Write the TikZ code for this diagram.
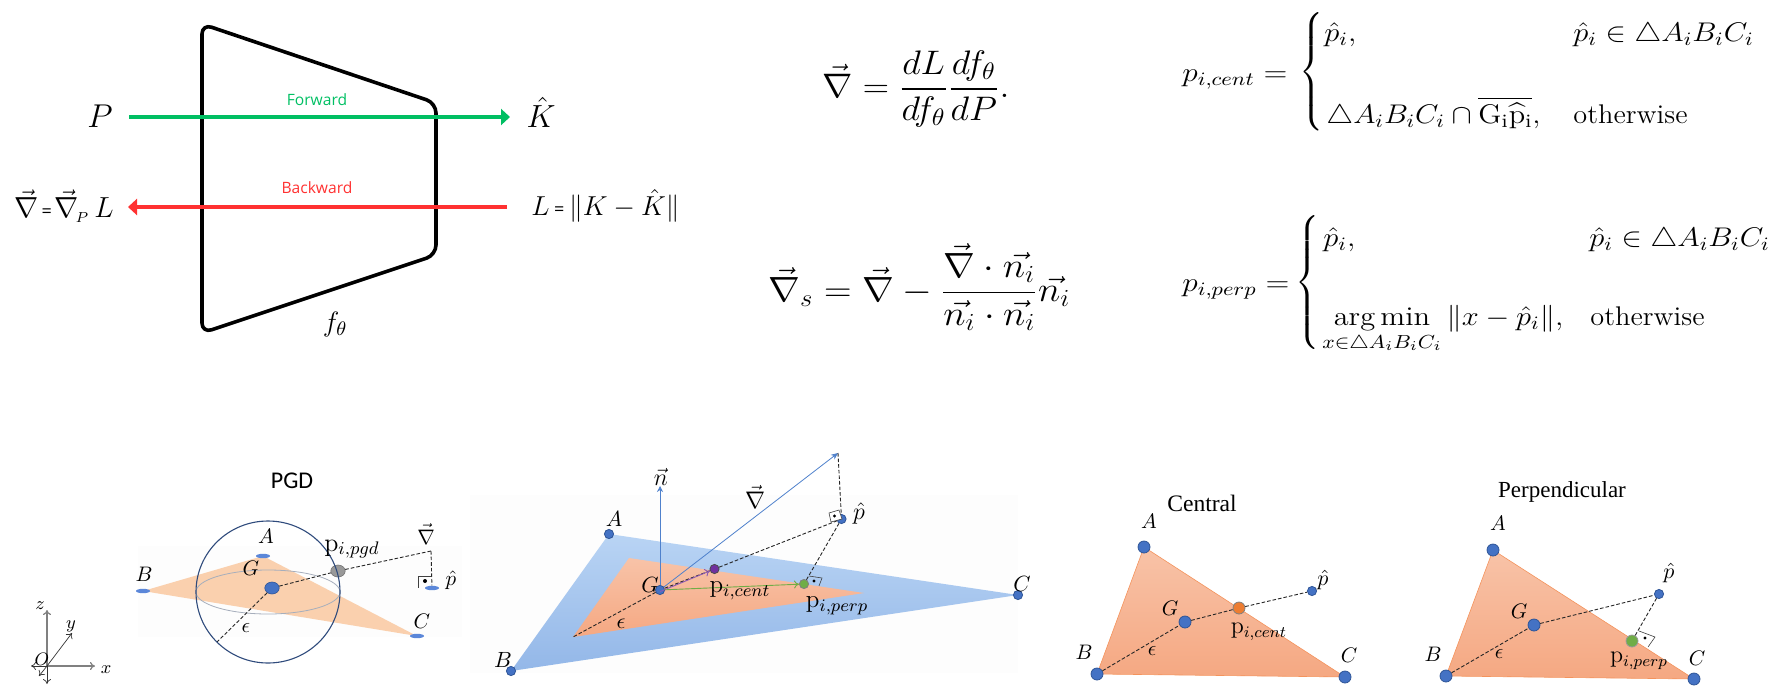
\RequirePackage{fix-cm}
\documentclass[tikz,border=0pt]{standalone}
\usepackage{amsmath,amssymb}
\usepackage{fontspec}
\newfontfamily\canvafont{Open Sans}
\newfontfamily\pgdfont{Carlito}
\newfontfamily\timesfont{Liberation Serif}
\usetikzlibrary{arrows.meta,shapes.geometric}
\definecolor{fwd}{HTML}{00BF63}
\definecolor{bwd}{HTML}{FF3131}
\definecolor{dotblue}{HTML}{4472C4}
\definecolor{dotedge}{HTML}{2F5597}
\definecolor{flatblue}{HTML}{5B87D9}
\definecolor{sphere}{HTML}{2F4B7C}
\definecolor{arrowblue}{HTML}{4F81CC}
\definecolor{pgdtri}{HTML}{FAD0AE}
\definecolor{bluetop}{HTML}{B9D4F4}
\definecolor{bluebot}{HTML}{93B7E8}
\definecolor{ortop}{HTML}{F8C3A8}
\definecolor{orbot}{HTML}{F5A882}
\definecolor{orline}{HTML}{F4935C}
\definecolor{pptgreen}{HTML}{70AD47}
\definecolor{pptpurple}{HTML}{7030A0}
\definecolor{pptorange}{HTML}{ED7D31}
\definecolor{panelbg}{HTML}{FDFDFD}
\newcommand{\sz}[1]{\fontsize{#1}{#1}\selectfont}
\newcommand{\dv}{\vec{\nabla}}
\newcommand{\xs}[2]{\scalebox{#1}[1]{#2}}
\tikzset{
  lab/.style={inner sep=0pt,font=\sz{10.5}},
  lab2/.style={inner sep=0pt,font=\sz{11}},
  wlab/.style={inner sep=0pt,anchor=west},
  cell/.style={inner sep=0pt,anchor=base west,font=\sz{13.5}},
  bigdot/.style={circle,fill=dotblue,draw=dotedge,line width=.4pt,inner sep=0pt,minimum size=6pt},
  smalldot/.style={circle,fill=dotblue,draw=dotedge,line width=.4pt,inner sep=0pt,minimum size=4.6pt},
  flatdot/.style={ellipse,fill=flatblue,inner sep=0pt,minimum width=7pt,minimum height=2.2pt},
  dash1/.style={dash pattern=on 1.8pt off 1pt,line width=.45pt,black!85},
  perpbox/.style={line width=.3pt,draw=black!75},
  fwdarrow/.style={line width=2.2pt,fwd,-{Triangle[length=4.5pt,width=8pt]}},
  bwdarrow/.style={line width=2.2pt,bwd,-{Triangle[length=4.5pt,width=8pt]}},
  axthick/.style={black!50,line width=.6pt,-{To[length=2.5pt,width=4pt]}},
  axthin/.style={black!80,line width=.35pt,-{To[length=2.5pt,width=4pt]}},
  ortri/.style={top color=ortop,bottom color=orbot},
}
\begin{document}
\begin{tikzpicture}[x=0.5pt,y=-0.5pt]
\useasboundingbox (0,0) rectangle (1778,697);
% ---------- network panel
\draw[line width=1.8pt,rounded corners=5pt,line join=round] (202,24) -- (436,103) -- (436,255) -- (202,333) -- cycle;
\node[lab,font=\sz{16.5}] (P) at (100,116) {$P$};
\node[lab,font=\sz{16}] (Khat) at (541,112) {$\hat K$};
\node[lab,font=\sz{14}] (fth) at (335,324) {$f_\theta$};
\node[wlab,font=\sz{13.7}] (Leq) at (531,206) {$L$\,{\canvafont\sz{9}=}\,$\|K-\hat K\|$};
\node[wlab,font=\sz{14.5}] (Geq) at (14,206) {$\dv${\canvafont\sz{9}\,=\,}$\dv_{\!\scriptscriptstyle P}\,L$};
\node[lab,font=\canvafont\sz{7.8},text=fwd] (fw) at (317,100) {Forward};
\node[lab,font=\canvafont\sz{7.8},text=bwd] (bw) at (317,188) {Backward};
\coordinate (gs) at (129,117); \coordinate (ge) at (510,117);
\coordinate (rs) at (507,207); \coordinate (re) at (128,207);
\draw[fwdarrow] (gs) -- (ge);
\draw[bwdarrow] (rs) -- (re);
% ---------- equations
\node[wlab,font=\sz{17}] (eq1) at (822,89) {\xs{1.07}{$\displaystyle \dv=\frac{dL}{df_\theta}\frac{df_\theta}{dP}.$}};
\node[wlab,font=\sz{17.5}] (eq2) at (768,287) {\xs{1.09}{$\displaystyle \dv_s=\dv-\frac{\dv\cdot\vec{n_i}}{\vec{n_i}\cdot\vec{n_i}}\vec{n_i}$}};
% cases 1
\node[cell] (pc) at (1182,81) {\xs{1.16}{$p_{i,cent}=$}};
\node[inner sep=0pt,font=\sz{13.5}] (b1) at (1313,71.5) {\scalebox{1}[1.05]{$\left\{\rule[-27pt]{0pt}{61pt}\right.$}};
\node[cell] (c11) at (1324,41) {\xs{1.13}{$\hat p_i,$}};
\node[cell] (c12) at (1573,41) {\xs{1.13}{$\hat p_i\in\triangle A_iB_iC_i$}};
\node[cell] (c21) at (1326,123) {\xs{1.12}{$\triangle A_iB_iC_i\cap\overline{\mathrm{G_i\hat p_i}},$}};
\node[cell] (c22) at (1573,123) {\xs{1.05}{otherwise}};
% cases 2
\node[cell] (pp) at (1182,291) {\xs{1.16}{$p_{i,perp}=$}};
\node[inner sep=0pt,font=\sz{13.5}] (b2) at (1309,283.5) {\scalebox{1}[1.03]{$\left\{\rule[-31pt]{0pt}{68pt}\right.$}};
\node[cell] (d11) at (1323,246) {\xs{1.13}{$\hat p_i,$}};
\node[cell] (d12) at (1589,246) {\xs{1.13}{$\hat p_i\in\triangle A_iB_iC_i$}};
\node[cell] (d21) at (1322,325) {\xs{1.13}{$\displaystyle\mathop{\arg\min}_{x\in\triangle A_iB_iC_i}\|x-\hat p_i\|,$}};
\node[cell] (d22) at (1590,325) {\xs{1.05}{otherwise}};
% ---------- PGD panel
\fill[panelbg] (138,546) rectangle (462,637);
\coordinate (a1c) at (263,556); \coordinate (b1c) at (143,591); \coordinate (c1c) at (417,636);
\fill[pgdtri] (a1c) -- (b1c) -- (c1c) -- cycle;
\node[lab,font=\pgdfont\sz{12}] (pgdt) at (292,481) {PGD};
\node[flatdot] (A1) at (a1c) {};
\node[flatdot] (B1) at (b1c) {};
\node[flatdot] (C1) at (c1c) {};
\coordinate (eq) at (268,592);
\draw[line width=.4pt,black!30!sphere!40!white] (eq) ellipse [x radius=72,y radius=22];
\node[ellipse,fill=dotblue,draw=dotedge,line width=.3pt,inner sep=0pt,minimum width=7.2pt,minimum height=6pt] (G1) at (272,588) {};
\node[ellipse,fill=black!40,draw=black!55,line width=.3pt,inner sep=0pt,minimum width=7.2pt,minimum height=6pt] (pg) at (338,571) {};
\node[flatdot] (ph1) at (432,588) {};
\coordinate (gr1) at (431,551);
\coordinate (eps1) at (217,642);
\draw[dash1] (G1) -- (pg);
\draw[dash1] (pg) -- (gr1);
\draw[dash1] (gr1) -- (ph1);
\draw[dash1] (G1) -- (eps1);
\draw[line width=.55pt,sphere] (eq) circle [x radius=72,y radius=71];
\draw[perpbox] (431,576) -- (418,576) -- (418,588);
\fill (425,581) circle [radius=2];
\node[lab] (A1l) at (266,536) {$A$};
\node[lab] (B1l) at (144,574) {$B$};
\node[lab] (C1l) at (422,621) {$C$};
\node[lab] (G1l) at (251,568) {$G$};
\node[lab] (e1l) at (246,628) {$\epsilon$};
\node[lab,font=\sz{13}] (p1l) at (352,549) {$\mathrm{p}_{i,pgd}$};
\node[lab] (n1l) at (426,534) {$\dv$};
\node[lab] (h1l) at (451,580) {$\hat p$};
% axes
\coordinate (O) at (47,666);
\coordinate (zt) at (47,610); \coordinate (zb) at (47,684);
\coordinate (xr) at (95,666); \coordinate (xl) at (31,666);
\coordinate (yt) at (72,633); \coordinate (yb) at (39,676);
\draw[axthick] (O) -- (zt);
\draw[axthick] (O) -- (xr);
\draw[axthin] (O) -- (zb);
\draw[axthin] (O) -- (xl);
\draw[axthin] (O) -- (yt);
\draw[axthin] (O) -- (yb);
\node[lab,font=\sz{9}] (zl) at (40,606) {$z$};
\node[lab,font=\sz{9}] (yl) at (71,626) {$y$};
\node[lab,font=\sz{9}] (Ol) at (42,659) {$O$};
\node[lab,font=\sz{9}] (xlb) at (106,670) {$x$};
% ---------- middle panel
\fill[panelbg] (470,495) rectangle (1018,673);
\coordinate (a2c) at (609,534); \coordinate (b2c) at (511,671); \coordinate (c2c) at (1018,595);
\shade[top color=bluetop,bottom color=bluebot] (a2c) -- (b2c) -- (c2c) -- cycle;
\coordinate (i1) at (629,558); \coordinate (i2) at (573,637); \coordinate (i3) at (864,593);
\shade[top color=ortop,bottom color=orbot] (i1) -- (i2) -- (i3) -- cycle;
\node[smalldot] (A2) at (a2c) {};
\node[smalldot] (B2) at (b2c) {};
\node[smalldot] (C2) at (c2c) {};
\node[smalldot] (G2) at (660,590) {};
\node[smalldot] (ph2) at (841.5,519) {};
\node[smalldot,fill=pptpurple,draw=black!70] (pur) at (714.5,569) {};
\node[smalldot,fill=pptgreen,draw=black!50] (grn) at (804,584) {};
\coordinate (ntip) at (660,486);
\coordinate (gtip) at (838,453);
\draw[arrowblue,line width=.35pt,-{Stealth[length=3pt,width=3pt]}] (G2) -- (ntip);
\draw[arrowblue,line width=.4pt,-{Stealth[length=3.5pt,width=3pt]}] (G2) -- (gtip);
\draw[dash1] (gtip) -- (ph2);
\draw[dash1] (G2) -- (pur);
\draw[dash1] (pur) -- (ph2);
\draw[dash1] (ph2) -- (grn);
\draw[dash1] (G2) -- (i2);
\draw[pptpurple!80,line width=.45pt,-{To[length=2.5pt,width=4pt]}] ([yshift=-.8pt]G2.center) -- (pur);
\draw[pptgreen,line width=.45pt,-{To[length=2.5pt,width=4pt]}] (G2) -- (grn);
\filldraw[perpbox,fill=white] (829,513) -- (839,510) -- (842,519) -- (831,522) -- cycle;
\fill (834.5,516) circle [radius=1.6];
\draw[perpbox] (809,576) -- (822,578) -- (819,586);
\fill (814,581) circle [radius=1.6];
\node[lab2] (A2l) at (614,519) {$A$};
\node[lab2] (B2l) at (503,660) {$B$};
\node[lab2] (C2l) at (1022,584) {$C$};
\node[lab2] (G2l) at (650,585) {$G$};
\node[lab2] (e2l) at (621,624) {$\epsilon$};
\node[lab,font=\sz{12.5}] (pcl) at (740,591) {$\mathrm{p}_{i,cent}$};
\node[lab,font=\sz{12.5}] (ppl) at (837,606) {$\mathrm{p}_{i,perp}$};
\node[lab,font=\sz{12}] (nl) at (661,477) {$\vec{n}$};
\node[lab,font=\sz{12}] (n2l) at (755,497) {$\dv$};
\node[lab,font=\sz{12}] (h2l) at (859,513) {$\hat p$};
% ---------- central panel
\coordinate (a3c) at (1144,547); \coordinate (b3c) at (1097,674); \coordinate (c3c) at (1345,677);
\shade[ortri] (a3c) -- (b3c) -- (c3c) -- cycle;
\draw[orline,line width=.3pt] (a3c) -- (b3c) -- (c3c) -- cycle;
\node[lab,font=\timesfont\sz{11.8}] (ct) at (1202,503) {Central};
\node[bigdot] (A3) at (a3c) {};
\node[bigdot] (B3) at (b3c) {};
\node[bigdot] (C3) at (c3c) {};
\node[bigdot] (G3) at (1185,622) {};
\node[bigdot,fill=pptorange,draw=black!50] (pc3) at (1239,608) {};
\node[smalldot] (ph3) at (1312,591) {};
\draw[dash1] (B3) -- (G3);
\draw[dash1] (G3) -- (pc3);
\draw[dash1] (pc3) -- (ph3);
\node[lab] (A3l) at (1149,521) {$A$};
\node[lab] (B3l) at (1084,652) {$B$};
\node[lab] (C3l) at (1349,655) {$C$};
\node[lab] (G3l) at (1170,608) {$G$};
\node[lab] (e3l) at (1152,651) {$\epsilon$};
\node[lab,font=\sz{12}] (p3l) at (1259,632) {$\mathrm{p}_{i,cent}$};
\node[lab,font=\sz{11}] (h3l) at (1323,580) {$\hat p$};
% ---------- perpendicular panel
\coordinate (a4c) at (1493,550); \coordinate (b4c) at (1446,676); \coordinate (c4c) at (1694,679);
\shade[ortri] (a4c) -- (b4c) -- (c4c) -- cycle;
\draw[orline,line width=.3pt] (a4c) -- (b4c) -- (c4c) -- cycle;
\node[lab,font=\timesfont\sz{11.5}] (pt) at (1562,492) {Perpendicular};
\node[bigdot] (A4) at (a4c) {};
\node[bigdot] (B4) at (b4c) {};
\node[bigdot] (C4) at (c4c) {};
\node[bigdot] (G4) at (1534,625) {};
\node[bigdot,fill=pptgreen,draw=black!40] (pp4) at (1632,641) {};
\node[smalldot] (ph4) at (1659,594) {};
\draw[dash1] (B4) -- (G4);
\draw[dash1] (G4) -- (ph4);
\draw[dash1] (ph4) -- (pp4);
\draw[perpbox] (1639,631) -- (1655,637) -- (1648,647);
\fill (1645,638) circle [radius=1.6];
\node[lab] (A4l) at (1498,523) {$A$};
\node[lab] (B4l) at (1433,654) {$B$};
\node[lab] (C4l) at (1697,658) {$C$};
\node[lab] (G4l) at (1519,611) {$G$};
\node[lab] (e4l) at (1499,654) {$\epsilon$};
\node[lab,font=\sz{12}] (p4l) at (1639,661) {$\mathrm{p}_{i,perp}$};
\node[lab,font=\sz{11}] (h4l) at (1669,573) {$\hat p$};
\end{tikzpicture}
\end{document}
